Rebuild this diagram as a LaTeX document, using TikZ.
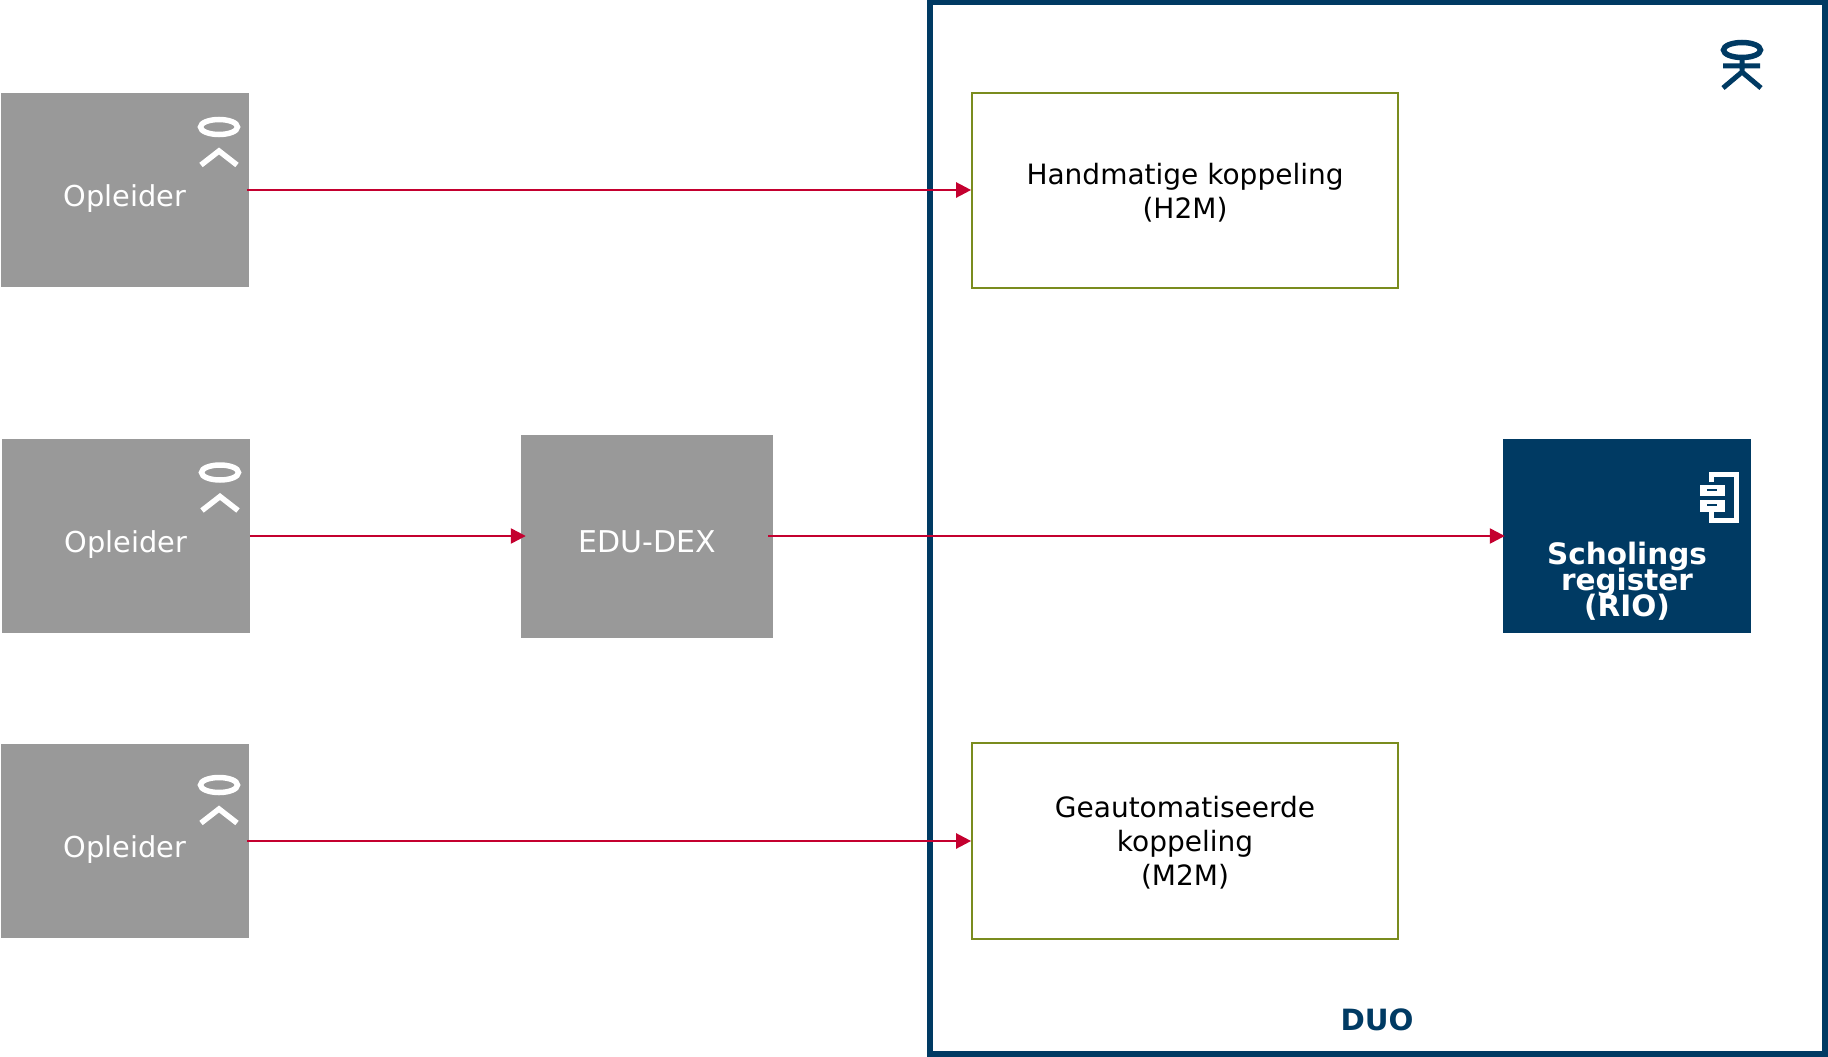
\documentclass[tikz,border=0pt]{standalone}
\usepackage{fontspec}
\setmainfont{DejaVu Sans}
\usetikzlibrary{arrows.meta}
\definecolor{duoblue}{HTML}{003A63}
\definecolor{duogray}{HTML}{999999}
\definecolor{duored}{HTML}{C4002F}
\definecolor{duogreen}{HTML}{7A8C1E}
\tikzset{
  vak/.style={draw=none,inner sep=0pt,minimum width=248pt,minimum height=194pt,fill=duogray},
  kader/.style={draw=duogreen,line width=1.7pt,fill=white,inner sep=0pt,minimum width=426pt,minimum height=195.5pt},
  kadertekst/.style={inner sep=0pt,align=center,font=\fontsize{28}{33.8}\selectfont,text=black},
  pijl/.style={draw=duored,line width=2.4pt,-{Triangle[length=15pt,width=15pt]}},
  tekst/.style={text=white,font=\fontsize{28.8}{33}\selectfont,inner sep=0pt}
}
\begin{document}
\begin{tikzpicture}[x=1pt,y=-1pt]
\useasboundingbox (0,0) rectangle (1828,1057);
\def\opl#1#2#3#4{
\node (#1) [vak] at (#2+124,#3+97) {};
\node (#1t) [tekst] at (#2+124,#3+106) {Opleider};
\draw [white,line width=5.5pt] (#2+218,#3+34+#4) ellipse (18.5pt and 7.5pt);
\draw [white,line width=5.5pt] (#2+200,#3+72+#4) -- (#2+218,#3+58+#4) -- (#2+236,#3+72+#4);
}
% kader DUO
\node (duo) [draw=duoblue,line width=5.8pt,inner sep=0pt,minimum width=895.3pt,minimum height=1052pt] at (1377.35,528) {};
\node (duot) [text=duoblue,font=\fontsize{29.3}{33}\selectfont\bfseries,inner sep=0pt] at (1377,1020) {DUO};
\draw [duoblue,line width=5.5pt] (1742,50) ellipse (18.5pt and 7.5pt);
\draw [duoblue,line width=5pt] (1723,66) -- (1760,66) (1742,57) -- (1742,72) (1723,88) -- (1742,72) -- (1761,88);
% opleiders
\opl{oa}{1}{93}{0}
\opl{ob}{2}{439}{-0.5}
\opl{oc}{1}{744}{7}
% midden
\node (edu) [vak,minimum width=252pt,minimum height=203pt] at (647,536) {};
\node (edut) [tekst,font=\fontsize{30}{33}\selectfont] at (647,542) {EDU-DEX};
\node (h2m) [kader] at (1185,190.5) {};
\node (h2mt) [kadertekst] at (1185,192.5) {Handmatige koppeling\\(H2M)};
\node (m2m) [kader] at (1185,841) {};
\node (m2mt) [kadertekst] at (1185,842.5) {Geautomatiseerde\\koppeling\\(M2M)};
% register
\node (rio) [vak,fill=duoblue,minimum height=193.5pt] at (1627,536) {};
\node (riot) [tekst,align=center,font=\fontsize{29.5}{26}\selectfont\bfseries] at (1627,581) {Scholings\\[-3.7pt]register\\[-3.7pt](RIO)};
\draw [white,line width=5pt] (1711.5,482) |- (1736.5,474.5) -- (1736.5,520.5) -| (1711.5,512);
\filldraw [white,fill=white] (1700,485) rectangle (1724,495) (1700,500) rectangle (1724,511);
\draw [duoblue,line width=1.2pt] (1707,490) -- (1717,490) (1707,505) -- (1717,505);
% pijlen
\draw [pijl,shorten <=-2pt] (oa.east) -- (oa.east -| h2m.west);
\draw [pijl,shorten <=-2pt] (oc.east) -- (oc.east -| m2m.west);
\draw [pijl,shorten >=-5pt] (ob.east) -- (edu.west);
\draw [pijl,shorten <=-5pt,shorten >=-2pt] (edu.east) -- (rio.west);
\end{tikzpicture}
\end{document}
